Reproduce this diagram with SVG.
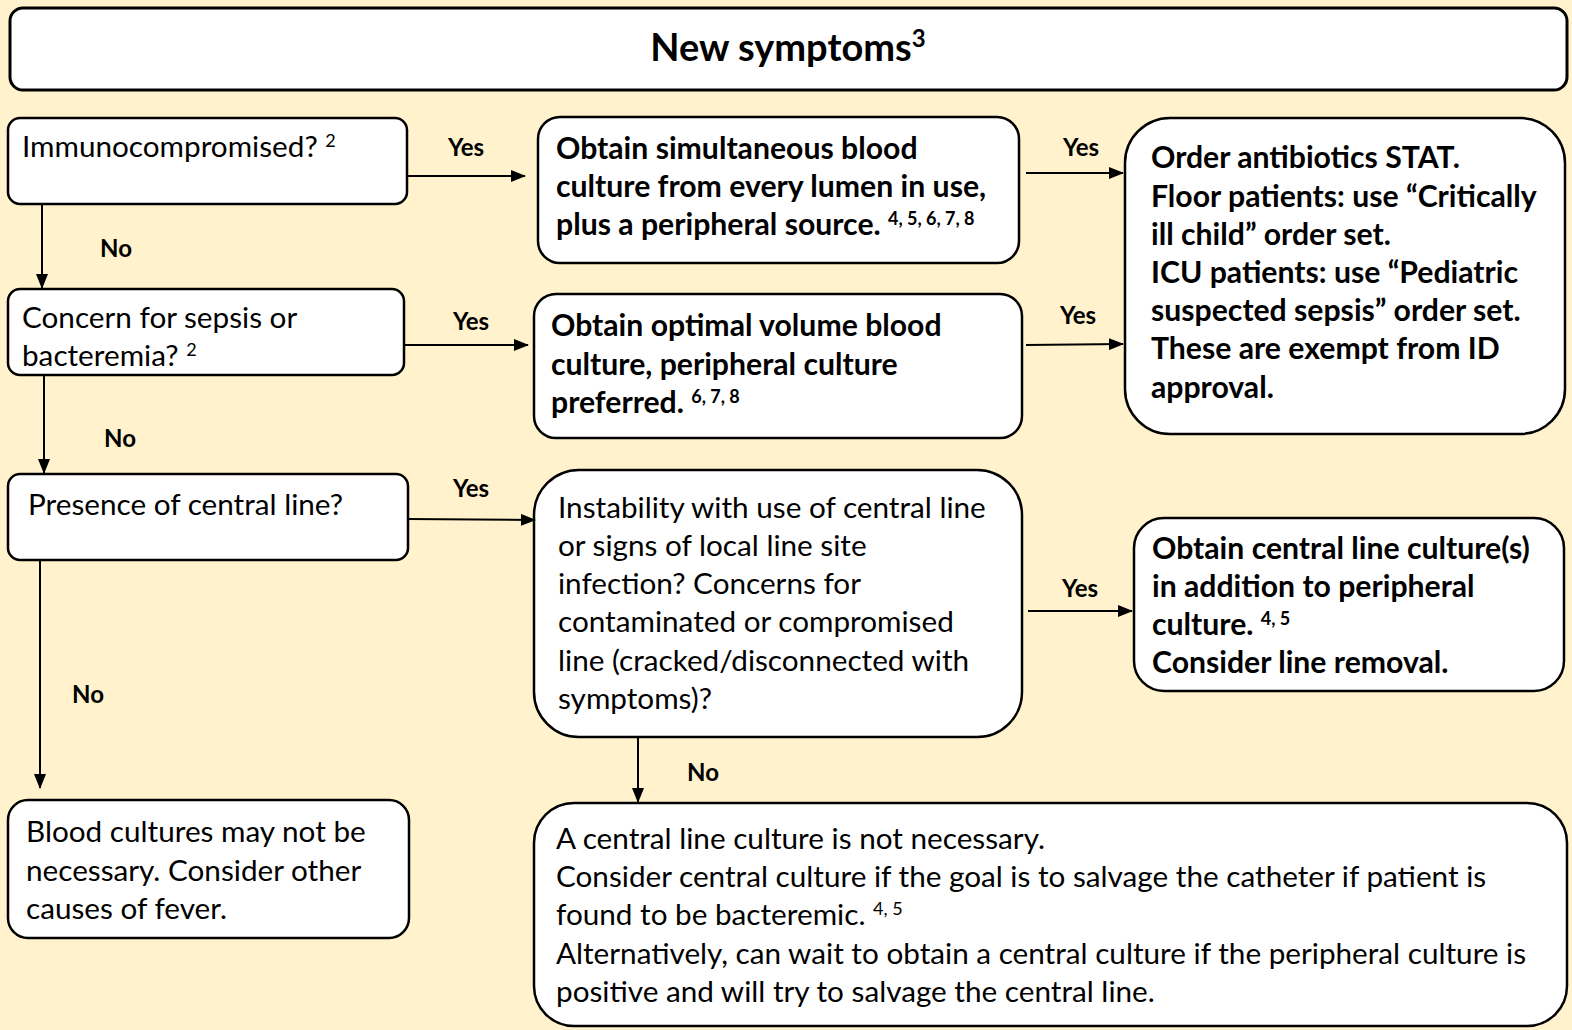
<svg xmlns="http://www.w3.org/2000/svg" width="1572" height="1030" viewBox="0 0 1572 1030">
<defs>
<style>
.bg{fill:#FFF2CC}
.box{fill:#fff;stroke:#000;stroke-width:2.5}
.t{font-family:Lato,"Liberation Sans",sans-serif;font-size:29.7px;fill:#000}
.b{font-family:Lato,"Liberation Sans",sans-serif;font-size:30.2px;font-weight:bold;fill:#000}
.sup{font-size:18px}
.lbl{font-family:Lato,"Liberation Sans",sans-serif;font-size:24px;font-weight:bold;fill:#000;text-anchor:middle}
.ln{stroke:#000;stroke-width:2;fill:none}
</style>
<marker id="ah" markerUnits="userSpaceOnUse" markerWidth="15" markerHeight="12" refX="14" refY="6" orient="auto">
<path d="M0,0 L15,6 L0,12 z" fill="#000"/>
</marker>
</defs>
<rect class="bg" x="0" y="0" width="1572" height="1030"/>

<g id="title">
<rect x="10" y="8" width="1557" height="82" rx="13" fill="#fff" stroke="#000" stroke-width="3"/>
<text x="788" y="61" text-anchor="middle" font-family="Lato,'Liberation Sans',sans-serif" font-size="38" font-weight="bold">New symptoms<tspan font-size="24" dy="-14">3</tspan></text>
</g>

<g id="immuno">
<rect class="box" x="8" y="118" width="399" height="86" rx="12"/>
<text class="t" x="22" y="157">Immunocompromised? <tspan class="sup" dy="-10">2</tspan></text>
</g>

<g id="simultaneous">
<rect class="box" x="538" y="117" width="481" height="146" rx="22"/>
<text class="b" x="556" y="159">Obtain simultaneous blood</text>
<text class="b" x="556" y="197">culture from every lumen in use,</text>
<text class="b" x="556" y="235">plus a peripheral source. <tspan class="sup" dy="-10">4, 5, 6, 7, 8</tspan></text>
</g>

<g id="antibiotics">
<rect class="box" x="1125" y="118" width="440" height="316" rx="45"/>
<text class="b" x="1151" y="168">Order antibiotics STAT.</text>
<text class="b" x="1151" y="207">Floor patients: use “Critically</text>
<text class="b" x="1151" y="245">ill child” order set.</text>
<text class="b" x="1151" y="283">ICU patients: use “Pediatric</text>
<text class="b" x="1151" y="321">suspected sepsis” order set.</text>
<text class="b" x="1151" y="359">These are exempt from ID</text>
<text class="b" x="1151" y="398">approval.</text>
</g>

<g id="sepsis">
<rect class="box" x="8" y="289" width="396" height="86" rx="12"/>
<text class="t" x="22" y="328">Concern for sepsis or</text>
<text class="t" x="22" y="366">bacteremia? <tspan class="sup" dy="-10">2</tspan></text>
</g>

<g id="optimal">
<rect class="box" x="534" y="294" width="488" height="144" rx="22"/>
<text class="b" x="551" y="336">Obtain optimal volume blood</text>
<text class="b" x="551" y="375">culture, peripheral culture</text>
<text class="b" x="551" y="413">preferred. <tspan class="sup" dy="-10">6, 7, 8</tspan></text>
</g>

<g id="centralline">
<rect class="box" x="8" y="474" width="400" height="86" rx="12"/>
<text class="t" x="28" y="515">Presence of central line?</text>
</g>

<g id="instability">
<rect class="box" x="534" y="470" width="488" height="267" rx="45"/>
<text class="t" x="558" y="518">Instability with use of central line</text>
<text class="t" x="558" y="556">or signs of local line site</text>
<text class="t" x="558" y="594">infection? Concerns for</text>
<text class="t" x="558" y="632">contaminated or compromised</text>
<text class="t" x="558" y="671">line (cracked/disconnected with</text>
<text class="t" x="558" y="709">symptoms)?</text>
</g>

<g id="obtaincentral">
<rect class="box" x="1134" y="518" width="430" height="173" rx="30"/>
<text class="b" x="1152" y="559">Obtain central line culture(s)</text>
<text class="b" x="1152" y="597">in addition to peripheral</text>
<text class="b" x="1152" y="635">culture.  <tspan class="sup" dy="-10">4, 5</tspan></text>
<text class="b" x="1152" y="673">Consider line removal.</text>
</g>

<g id="notnecessary">
<rect class="box" x="8" y="800" width="401" height="138" rx="20"/>
<text class="t" x="26" y="842">Blood cultures may not be</text>
<text class="t" x="26" y="881">necessary. Consider other</text>
<text class="t" x="26" y="919">causes of fever.</text>
</g>

<g id="centralnotnecessary">
<rect class="box" x="534" y="803" width="1033" height="223" rx="40"/>
<text class="t" x="556" y="849">A central line culture is not necessary.</text>
<text class="t" x="556" y="887">Consider central culture if the goal is to salvage the catheter if patient is</text>
<text class="t" x="556" y="925">found to be bacteremic. <tspan class="sup" dy="-10">4, 5</tspan></text>
<text class="t" x="556" y="964">Alternatively, can wait to obtain a central culture if the peripheral culture is</text>
<text class="t" x="556" y="1002">positive and will try to salvage the central line.</text>
</g>

<g id="connectors">
<line class="ln" x1="407" y1="176" x2="525" y2="176" marker-end="url(#ah)"/>
<line class="ln" x1="1026" y1="173" x2="1123" y2="173" marker-end="url(#ah)"/>
<line class="ln" x1="42" y1="204" x2="42" y2="288" marker-end="url(#ah)"/>
<line class="ln" x1="404" y1="345" x2="528" y2="345" marker-end="url(#ah)"/>
<line class="ln" x1="1026" y1="345" x2="1123" y2="344" marker-end="url(#ah)"/>
<line class="ln" x1="44" y1="375" x2="44" y2="473" marker-end="url(#ah)"/>
<line class="ln" x1="408" y1="519" x2="535" y2="520" marker-end="url(#ah)"/>
<line class="ln" x1="1028" y1="611" x2="1132" y2="611" marker-end="url(#ah)"/>
<line class="ln" x1="40" y1="560" x2="40" y2="788" marker-end="url(#ah)"/>
<line class="ln" x1="638" y1="737" x2="638" y2="802" marker-end="url(#ah)"/>
<text class="lbl" x="466" y="156">Yes</text>
<text class="lbl" x="1081" y="156">Yes</text>
<text class="lbl" x="116" y="257">No</text>
<text class="lbl" x="471" y="330">Yes</text>
<text class="lbl" x="1078" y="324">Yes</text>
<text class="lbl" x="120" y="447">No</text>
<text class="lbl" x="471" y="497">Yes</text>
<text class="lbl" x="1080" y="597">Yes</text>
<text class="lbl" x="88" y="703">No</text>
<text class="lbl" x="703" y="781">No</text>
</g>
</svg>
